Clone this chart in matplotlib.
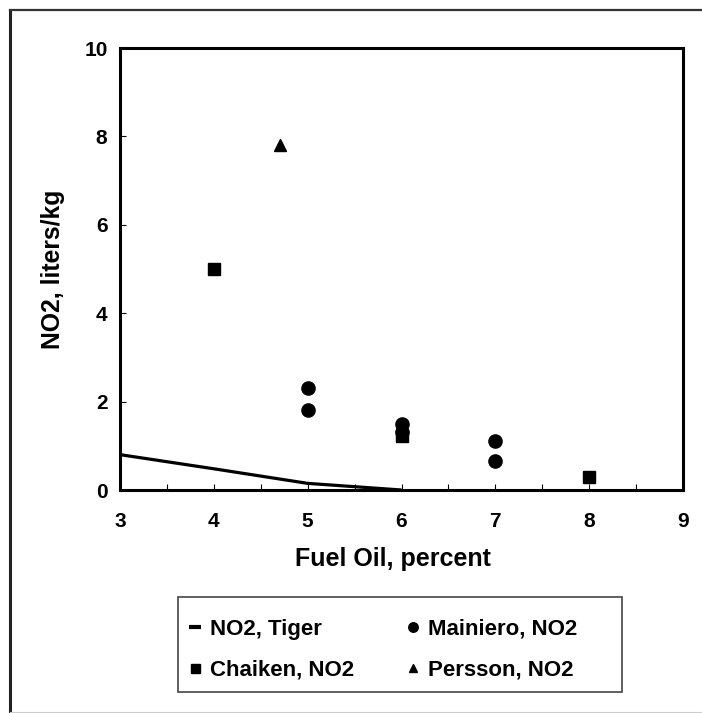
import matplotlib
matplotlib.use("Agg")
import matplotlib.pyplot as plt
from matplotlib.lines import Line2D
from matplotlib.patches import Rectangle
from matplotlib.ticker import MultipleLocator

plt.rcParams['font.family'] = ['Liberation Sans', 'DejaVu Sans']
plt.rcParams['font.weight'] = 'bold'

# Data
tiger_x = [3, 4, 5, 6]
tiger_y = [0.8, 0.48, 0.15, 0.0]
mainiero_x = [5, 5, 6, 6, 7, 7]
mainiero_y = [2.3, 1.8, 1.5, 1.32, 1.1, 0.65]
chaiken_x = [4, 6, 8]
chaiken_y = [5.0, 1.22, 0.3]
persson_x = [4.7]
persson_y = [7.8]
x_ticks = [3, 4, 5, 6, 7, 8, 9]
y_ticks = [0, 2, 4, 6, 8, 10]

W, H = 702, 713
fig = plt.figure(figsize=(W / 100, H / 100), dpi=100)

# outer frame (cropped)
fig.add_artist(Line2D([10 / W, 10 / W], [0, 1 - 10 / H], transform=fig.transFigure,
                      color='#222222', lw=2.2))
fig.add_artist(Line2D([10 / W, 1], [1 - 10 / H, 1 - 10 / H], transform=fig.transFigure,
                      color='#333333', lw=1.6))
fig.add_artist(Line2D([10 / W, 1], [1.5 / H, 1.5 / H], transform=fig.transFigure,
                      color='#cccccc', lw=0.8))

left, right, top, bottom = 120, 683, 48, 490
ax = fig.add_axes([left / W, 1 - bottom / H, (right - left) / W, (bottom - top) / H])

ax.plot(tiger_x, tiger_y, color='black', lw=2.3, label='NO2, Tiger', solid_capstyle='butt')
ax.plot(mainiero_x, mainiero_y, 'o', color='black', ms=9.5, label='Mainiero, NO2')
ax.plot(chaiken_x, chaiken_y, 's', color='black', ms=9, label='Chaiken, NO2')
ax.plot(persson_x, persson_y, '^', color='black', ms=8.5, label='Persson, NO2')

ax.set_xlim(3, 9)
ax.set_ylim(0, 10)
ax.set_xticks(x_ticks)
ax.set_yticks(y_ticks)
ax.xaxis.set_minor_locator(MultipleLocator(0.5))
ax.tick_params(axis='both', which='both', direction='in', length=4, width=0.8,
               labelsize=15)
ax.tick_params(axis='x', which='major', pad=16)
ax.tick_params(axis='y', which='major', pad=9)
for lab in ax.get_xticklabels() + ax.get_yticklabels():
    lab.set_fontweight('bold')
for s in ax.spines.values():
    s.set_linewidth(2.2)

ax.set_xlabel('Fuel Oil, percent', fontsize=18, fontweight='bold')
ax.set_ylabel('NO2, liters/kg', fontsize=17.8, fontweight='bold')
ax.xaxis.set_label_coords((393 - left) / (right - left), -(547 - bottom) / (bottom - top))
ax.yaxis.set_label_coords(-(left - 65) / (right - left), 0.5)

# legend frame
fig.add_artist(Rectangle((178 / W, 1 - 692 / H), 444 / W, 95 / H, transform=fig.transFigure,
                         fill=False, edgecolor='#444444', lw=1.2))

handles, labels = ax.get_legend_handles_labels()
order = [0, 2, 1, 3]
leg = fig.legend([handles[i] for i in order], [labels[i] for i in order],
                 ncol=2, loc='upper left',
                 bbox_to_anchor=(189 / W, 1 - 619 / H),
                 borderaxespad=0, frameon=False, borderpad=0,
                 prop={'size': 16, 'weight': 'bold'},
                 handlelength=0.55, handletextpad=0.4, markerscale=0.72,
                 labelspacing=0.87, columnspacing=2.35)
leg.get_lines()[0].set_linewidth(3.0)

fig.savefig('out.png', dpi=100)
